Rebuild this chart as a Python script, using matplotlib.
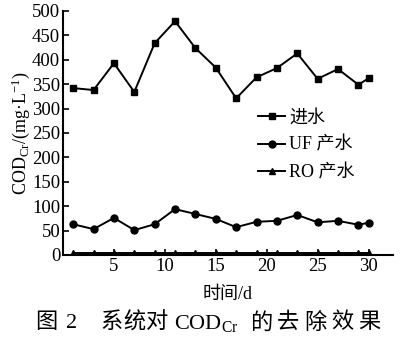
import matplotlib
matplotlib.use("Agg")
import matplotlib.pyplot as plt

days = [1, 3, 5, 7, 9, 11, 13, 15, 17, 19, 21, 23, 25, 27, 29, 30]
influent = [342, 338, 393, 334, 434, 479, 424, 384, 321, 364, 383, 413, 361, 381, 349, 362]
uf_out = [63, 53, 76, 51, 63, 94, 84, 74, 57, 68, 70, 82, 67, 70, 62, 66]
ro_out = [4, 4, 4, 4, 4, 4, 4, 4, 4, 4, 4, 4, 4, 4, 4, 4]
labels = ["进水", "UF 产水", "RO 产水"]
xticks = [5, 10, 15, 20, 25, 30]
yticks = [0, 50, 100, 150, 200, 250, 300, 350, 400, 450, 500]

fam = ["Liberation Serif", "Noto Sans CJK SC"]
plt.rcParams["font.family"] = fam
plt.rcParams["mathtext.fontset"] = "custom"
plt.rcParams["mathtext.rm"] = "Liberation Serif"
plt.rcParams["mathtext.it"] = "Liberation Serif:italic"

fig = plt.figure(figsize=(4.0, 3.39), dpi=100)
ax = fig.add_axes([0.1575, 0.2478, 0.825, 0.7198])

ax.plot(days, influent, color="black", lw=1.4, marker="s", ms=4.5, label=labels[0])
ax.plot(days, uf_out, color="black", lw=1.4, marker="o", ms=5, label=labels[1])
ax.plot(days, ro_out, color="black", lw=1.4, marker="^", ms=5, label=labels[2])

ax.set_xlim(0, 32.4)
ax.set_ylim(0, 500)
ax.set_xticks(xticks)
ax.set_yticks(yticks)
ax.tick_params(direction="in", length=4, width=1.2, labelsize=13.5, pad=2)
for s in ["top", "right"]:
    ax.spines[s].set_visible(False)
for s in ["left", "bottom"]:
    ax.spines[s].set_linewidth(1.5)

ax.set_ylabel("COD$_{\\mathrm{Cr}}$/(mg·L$^{-1}$)", fontsize=13, labelpad=0)
ax.set_xlabel("时间/d", fontsize=13, labelpad=8)

leg = ax.legend(loc="upper left", bbox_to_anchor=(0.57, 0.625), frameon=False,
                fontsize=13, handlelength=1.5, handletextpad=0.2,
                labelspacing=0.55, borderaxespad=0)

# caption drawn in pieces so CJK and subscript both render
ycap = 1 - 323 / 339
pieces = [("图", 35), ("2", 66), ("系", 100), ("统", 123), ("对", 146),
          ("COD$_{\\mathrm{Cr}}$", 174), ("的", 250), ("去", 277), ("除", 304),
          ("效", 331), ("果", 358)]
for txt, xpx in pieces:
    fig.text(xpx / 400, ycap, txt, ha="left", va="center", fontsize=16)

fig.savefig("out.png", dpi=100)
